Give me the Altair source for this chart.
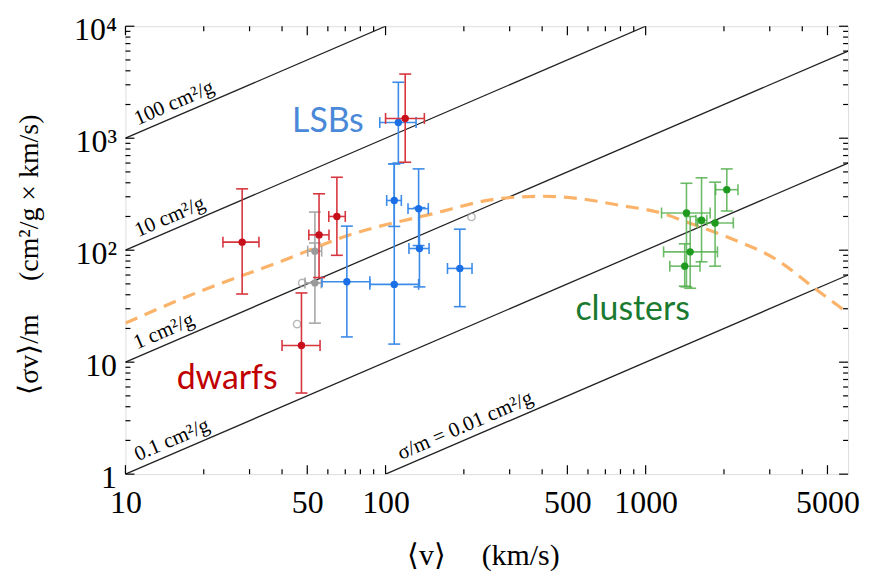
import math
import altair as alt
import pandas as pd

# ---------------- data ----------------
# dwarfs (red)
dwarf_v    = [28.1, 55.5, 65.0, 119.0, 47.5]
dwarf_y    = [118.0, 137.0, 200.0, 1500.0, 14.1]
dwarf_vlo  = [23.7, 50.7, 60.5, 100.0, 40.0]
dwarf_vhi  = [32.6, 60.6, 70.0, 141.0, 56.0]
dwarf_ylo  = [40.6, 57.0, 90.0, 610.0, 5.3]
dwarf_yhi  = [353.0, 319.0, 448.0, 3740.0, 41.5]

# LSBs (blue)
lsb_v   = [112.0, 108.0, 108.0, 71.0, 134.0, 135.0, 193.0]
lsb_y   = [1380.0, 278.0, 49.5, 52.3, 235.0, 103.5, 68.7]
lsb_vlo = [95.0, 101.0, 87.0, 57.0, 122.0, 123.0, 173.0]
lsb_vhi = [131.0, 115.0, 134.0, 87.0, 146.0, 147.0, 215.0]
lsb_ylo = [600.0, 163.0, 14.5, 16.8, 110.0, 47.0, 31.3]
lsb_yhi = [3160.0, 590.0, 590.0, 164.0, 532.0, 240.0, 154.0]

# clusters (green)
cl_v   = [2051.0, 1435.0, 1640.0, 1849.0, 1483.0, 1413.0]
cl_y   = [347.0, 215.0, 185.0, 175.0, 96.6, 72.0]
cl_vlo = [1858.0, 1151.0, 1560.0, 1581.0, 1172.0, 1238.0]
cl_vhi = [2264.0, 1770.0, 1720.0, 2173.0, 1888.0, 1618.0]
cl_ylo = [224.0, 47.0, 78.7, 72.0, 45.7, 47.7]
cl_yhi = [532.0, 396.0, 443.0, 405.0, 200.0, 114.0]

# grey filled points with errors
gr_v   = [53.5, 53.5]
gr_y   = [98.0, 51.0]
gr_vlo = [50.2, 49.0]
gr_vhi = [56.8, 56.6]
gr_ylo = [51.0, 22.3]
gr_yhi = [219.0, 116.0]

# grey open circles
gro_v = [47.8, 45.7, 214.0]
gro_y = [51.0, 21.9, 198.0]

# theory curve (orange dashed)
curve_v = [10, 19.2, 40, 72, 150, 271, 400, 548, 800, 1111, 1500, 2061, 3206, 4500, 6000]
curve_y = [22.3, 42.6, 80, 136, 210, 288, 303, 290, 251, 219, 172, 131, 81.5, 45, 27.4]

# constant cross-section lines  sigma/m in cm^2/g
sigma_vals   = [0.01, 0.1, 1, 10, 100]
sigma_labels = ["σ/m = 0.01 cm²/g", "0.1 cm²/g", "1 cm²/g", "10 cm²/g", "100 cm²/g"]
sigma_label_v = [212.0, 15.8, 14.7, 15.5, 16.1]

# axis ticks
x_major = [10, 50, 100, 500, 1000, 5000]
x_minor = [20, 30, 40, 60, 70, 80, 90, 200, 300, 400, 600, 700, 800, 900, 2000, 3000, 4000]
y_major = [1, 10, 100, 1000, 10000]
y_minor = [m * 10 ** k for k in range(4) for m in range(2, 10)]

# group labels
grp_text  = ["LSBs", "dwarfs", "clusters"]
grp_v     = [60.0, 24.6, 891.0]
grp_y     = [1403.0, 7.0, 29.3]
grp_color = ["#4a88d8", "#c00000", "#1a7a30"]

# ---------------- chart ----------------
X_DOM = [10, 6000]
Y_DOM = [1, 10000]
W, H = 726, 450
SERIF = "Liberation Serif"
EM = "\u2003"

xs = alt.Scale(type="log", domain=X_DOM, nice=False)
ys = alt.Scale(type="log", domain=Y_DOM, nice=False)

ax_x = alt.Axis(values=x_major, ticks=False, domain=False, grid=False,
                labelFont=SERIF, labelFontSize=32, labelColor="black",
                labelPadding=14, labelFlush=False, labelOverlap=False,
                labelExpr="format(datum.value, 'd')",
                title="⟨v⟩" + EM + "\u2009(km/s)", titleFont=SERIF, titleFontSize=30,
                titleFontWeight="normal", titleColor="black",
                titleX=W / 2 - 4, titleY=91, titleBaseline="alphabetic")
ax_y = alt.Axis(values=y_major, ticks=False, domain=False, grid=False,
                labelFont=SERIF, labelFontSize=32, labelColor="black",
                labelPadding=9, labelFlush=False, labelOverlap=False,
                labelBaseline="middle", labelOffset=3,
                labelExpr="datum.value == 1 ? '1' : datum.value == 10 ? '10' : datum.value == 100 ? '10²' : datum.value == 1000 ? '10³' : '10⁴'",
                title="⟨σv⟩/m" + EM + "\u2009(cm²/g × km/s)", titleFont=SERIF, titleFontSize=28,
                titleFontWeight="normal", titleColor="black",
                titleX=-96, titleY=229, titleAngle=270,
                titleBaseline="middle", titleAlign="center")


def X(field):
    return alt.X(field, type="quantitative", scale=xs, axis=ax_x)


def Y(field):
    return alt.Y(field, type="quantitative", scale=ys, axis=ax_y)


layers = []

# diagonal lines
seg_rows = []
for c in sigma_vals:
    x0 = max(X_DOM[0], Y_DOM[0] / c)
    x1 = min(X_DOM[1], Y_DOM[1] / c)
    seg_rows.append({"c": c, "v": x0, "y": c * x0, "v2": x1, "y2": c * x1})
seg_df = pd.DataFrame(seg_rows)
layers.append(alt.Chart(seg_df).mark_rule(color="#222222", strokeWidth=1.3, clip=True)
              .encode(x=X("v"), y=Y("y"), x2="v2", y2="y2"))

# line labels
angle = math.degrees(math.atan((H / math.log10(Y_DOM[1] / Y_DOM[0])) /
                               (W / math.log10(X_DOM[1] / X_DOM[0]))))
lab_df = pd.DataFrame({"v": sigma_label_v,
                       "y": [c * v for c, v in zip(sigma_vals, sigma_label_v)],
                       "t": sigma_labels})
layers.append(alt.Chart(lab_df).mark_text(font=SERIF, fontSize=21, color="black",
                                          angle=360 - angle, baseline="bottom",
                                          align="center", dy=-3)
              .encode(x=X("v"), y=Y("y"), text="t:N"))

# theory curve
cur_df = pd.DataFrame({"v": curve_v, "y": curve_y})
layers.append(alt.Chart(cur_df).mark_line(color="#fbb36a", strokeWidth=3.2,
                                          strokeDash=[13, 8], interpolate="monotone", clip=True)
              .encode(x=X("v"), y=Y("y")))


def err_layers(v, y, vlo, vhi, ylo, yhi, bar_color, pt_color, opacity=1.0):
    df = pd.DataFrame({"v": v, "y": y, "vlo": vlo, "vhi": vhi, "ylo": ylo, "yhi": yhi})
    b = alt.Chart(df)
    out = [
        b.mark_rule(color=bar_color, strokeWidth=1.6, opacity=opacity).encode(x=X("v"), y=Y("ylo"), y2="yhi"),
        b.mark_rule(color=bar_color, strokeWidth=1.6, opacity=opacity).encode(x=X("vlo"), x2="vhi", y=Y("y")),
        b.mark_tick(color=bar_color, orient="horizontal", size=12, thickness=1.6, opacity=opacity).encode(x=X("v"), y=Y("ylo")),
        b.mark_tick(color=bar_color, orient="horizontal", size=12, thickness=1.6, opacity=opacity).encode(x=X("v"), y=Y("yhi")),
        b.mark_tick(color=bar_color, orient="vertical", size=11, thickness=1.6, opacity=opacity).encode(x=X("vlo"), y=Y("y")),
        b.mark_tick(color=bar_color, orient="vertical", size=11, thickness=1.6, opacity=opacity).encode(x=X("vhi"), y=Y("y")),
        b.mark_circle(color=pt_color, size=55, opacity=1).encode(x=X("v"), y=Y("y")),
    ]
    return out


layers += err_layers(gr_v, gr_y, gr_vlo, gr_vhi, gr_ylo, gr_yhi, "#a8a8a8", "#9a9a9a")
gro_df = pd.DataFrame({"v": gro_v, "y": gro_y})
layers.append(alt.Chart(gro_df).mark_point(color="#9a9a9a", filled=False, size=55, strokeWidth=1.4)
              .encode(x=X("v"), y=Y("y")))
layers += err_layers(cl_v, cl_y, cl_vlo, cl_vhi, cl_ylo, cl_yhi, "#55b04f", "#1e9a1e", opacity=0.85)
layers += err_layers(lsb_v, lsb_y, lsb_vlo, lsb_vhi, lsb_ylo, lsb_yhi, "#3d8be8", "#1a6fe6")
layers += err_layers(dwarf_v, dwarf_y, dwarf_vlo, dwarf_vhi, dwarf_ylo, dwarf_yhi, "#d8363f", "#c8101c")

# group labels
grp_df = pd.DataFrame({"v": grp_v, "y": grp_y, "t": grp_text, "c": grp_color})
layers.append(alt.Chart(grp_df).mark_text(font="Lato", fontSize=34, align="center", baseline="middle")
              .encode(x=X("v"), y=Y("y"), text="t:N", color=alt.Color("c:N", scale=None)))


# inward frame ticks
def xticks(vals, length):
    d = pd.DataFrame({"t": vals})
    return [
        alt.Chart(d).mark_rule(color="black", strokeWidth=1.2).encode(x=X("t"), y=alt.value(H), y2=alt.value(H - length)),
        alt.Chart(d).mark_rule(color="black", strokeWidth=1.2).encode(x=X("t"), y=alt.value(0), y2=alt.value(length)),
    ]


def yticks(vals, length):
    d = pd.DataFrame({"t": vals})
    return [
        alt.Chart(d).mark_rule(color="black", strokeWidth=1.2).encode(y=Y("t"), x=alt.value(0), x2=alt.value(length)),
        alt.Chart(d).mark_rule(color="black", strokeWidth=1.2).encode(y=Y("t"), x=alt.value(W), x2=alt.value(W - length)),
    ]


layers += xticks(x_major, 9) + xticks(x_minor, 5) + yticks(y_major, 9) + yticks(y_minor, 5)

chart = alt.layer(*layers).properties(
    width=W, height=H,
    autosize=alt.AutoSizeParams(type="none"),
    padding={"left": 118, "top": 17, "right": 14, "bottom": 97},
).configure_view(stroke="black", strokeWidth=1.3).configure(background="white")

chart.save("out.html", embed_options={"renderer": "svg", "actions": False})
